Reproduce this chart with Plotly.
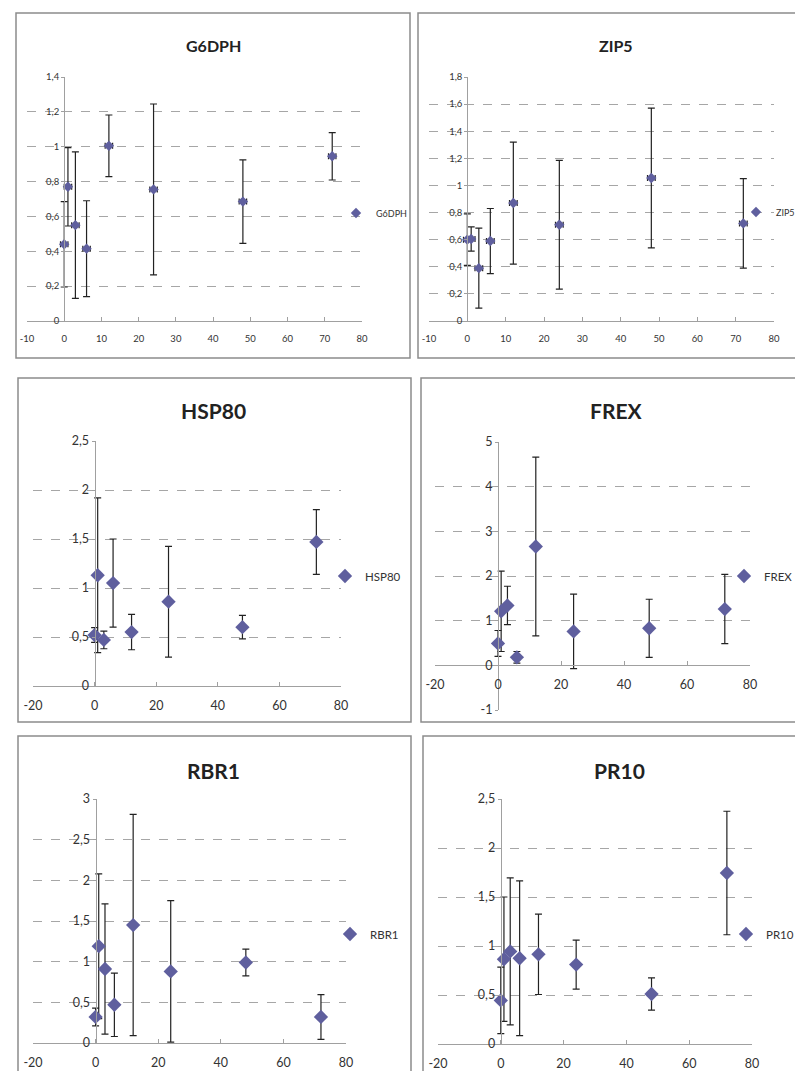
import plotly.graph_objects as go

# ---------------- data ----------------
times = [0, 1, 3, 6, 12, 24, 48, 72]

g6dph_y = [0.44, 0.77, 0.55, 0.415, 1.005, 0.755, 0.685, 0.945]
g6dph_err = [0.245, 0.225, 0.42, 0.275, 0.177, 0.49, 0.24, 0.136]

zip5_y = [0.60, 0.605, 0.39, 0.59, 0.87, 0.71, 1.055, 0.72]
zip5_err = [0.19, 0.09, 0.295, 0.24, 0.45, 0.475, 0.515, 0.33]

hsp80_y = [0.52, 1.13, 0.47, 1.05, 0.55, 0.86, 0.60, 1.47]
hsp80_err = [0.075, 0.79, 0.09, 0.45, 0.18, 0.565, 0.12, 0.33]

frex_y = [0.49, 1.21, 1.34, 0.18, 2.66, 0.76, 0.83, 1.26]
frex_err = [0.29, 0.90, 0.43, 0.13, 2.0, 0.835, 0.65, 0.775]

rbr1_y = [0.32, 1.19, 0.91, 0.47, 1.45, 0.88, 0.99, 0.32]
rbr1_err = [0.11, 0.89, 0.80, 0.39, 1.36, 0.87, 0.165, 0.275]

pr10_y = [0.445, 0.865, 0.945, 0.875, 0.915, 0.81, 0.51, 1.745]
pr10_err = [0.34, 0.635, 0.75, 0.79, 0.41, 0.25, 0.165, 0.63]

time_err_top = [1, 1, 1, 1, 1, 1, 1, 1]

x_ticks_top = [-10, 0, 10, 20, 30, 40, 50, 60, 70, 80]
x_labels_top = ["-10", "0", "10", "20", "30", "40", "50", "60", "70", "80"]
x_ticks_low = [-20, 0, 20, 40, 60, 80]
x_labels_low = ["-20", "0", "20", "40", "60", "80"]
frex_y_ticks = [-1, 0, 1, 2, 3, 4, 5]
frex_y_labels = ["-1", "0", "1", "2", "3", "4", "5"]

# ---------------- layout config ----------------
W, H = 803, 1071
FONT = "Lato, Liberation Sans, sans-serif"
MARKER = "#5F5F9E"
GRID = "#A6A6A6"
AXIS = "#A0A0A0"

panels = [
    dict(name="G6DPH", y=g6dph_y, err=g6dph_err, xerr=time_err_top,
         xr=[-10, 80], xt=x_ticks_top, xl=x_labels_top, yr=[0, 1.4], dy=0.2,
         px=(19, 354, 69, 313), box=(8, 5, 402, 350), title=(205, 38), tsize=16,
         leg=(376, 205), lsize=9, fsize=9.5, msize=8),
    dict(name="ZIP5", y=zip5_y, err=zip5_err, xerr=time_err_top,
         xr=[-10, 80], xt=x_ticks_top, xl=x_labels_top, yr=[0, 1.8], dy=0.2,
         px=(421, 766, 69, 313), box=(410, 5, 806, 350), title=(608, 38), tsize=16,
         leg=(776, 204), lsize=9, fsize=9.5, msize=8),
    dict(name="HSP80", y=hsp80_y, err=hsp80_err, xerr=None,
         xr=[-20, 80], xt=x_ticks_low, xl=x_labels_low, yr=[0, 2.5], dy=0.5,
         px=(25, 333, 433, 678), box=(10, 370, 403, 714), title=(205, 402), tsize=21,
         leg=(365, 568), lsize=11.5, fsize=12.5, msize=11),
    dict(name="FREX", y=frex_y, err=frex_err, xerr=None,
         xr=[-20, 80], xt=x_ticks_low, xl=x_labels_low, yr=[-1, 5], dy=1,
         yt=frex_y_ticks, yl=frex_y_labels,
         px=(427, 742, 434, 702), box=(413, 370, 806, 714), title=(608, 402), tsize=21,
         leg=(764, 568), lsize=11.5, fsize=12.5, msize=11),
    dict(name="RBR1", y=rbr1_y, err=rbr1_err, xerr=None,
         xr=[-20, 80], xt=x_ticks_low, xl=x_labels_low, yr=[0, 3], dy=0.5,
         px=(25, 338, 791, 1035), box=(10, 728, 403, 1075), title=(205, 762), tsize=21,
         leg=(370, 926), lsize=11.5, fsize=12.5, msize=11),
    dict(name="PR10", y=pr10_y, err=pr10_err, xerr=None,
         xr=[-20, 80], xt=x_ticks_low, xl=x_labels_low, yr=[0, 2.5], dy=0.5,
         px=(430, 744, 791, 1036), box=(415, 728, 806, 1075), title=(611, 762), tsize=21,
         leg=(766, 926), lsize=11.5, fsize=12.5, msize=11),
]

fig = go.Figure()
layout = dict(
    width=W, height=H, margin=dict(l=0, r=0, t=0, b=0, autoexpand=False),
    paper_bgcolor="white", plot_bgcolor="white", separators=", ",
    font=dict(family=FONT, color="#333333"),
    shapes=[], annotations=[],
)

for i, p in enumerate(panels, start=1):
    sfx = "" if i == 1 else str(i)
    x0, x1, yt, yb = p["px"]
    xmin, xmax = p["xr"]
    ymin, ymax = p["yr"]
    xdom = [x0 / W, x1 / W]
    ydom = [1 - yb / H, 1 - yt / H]
    yaxis_px = x0 + (0 - xmin) / (xmax - xmin) * (x1 - x0)
    xaxis_py = yb - (0 - ymin) / (ymax - ymin) * (yb - yt)

    legname = "legend" if i == 1 else f"legend{i}"
    tr = dict(
        x=times, y=p["y"], mode="markers", name=p["name"],
        marker=dict(symbol="diamond", size=p["msize"], color=MARKER),
        error_y=dict(type="data", array=p["err"], visible=True,
                     color="#222222", thickness=1.2, width=3.5),
        xaxis=f"x{sfx}", yaxis=f"y{sfx}", legend=legname, showlegend=True,
    )
    if p["xerr"] is not None:
        tr["error_x"] = dict(type="data", array=p["xerr"], visible=True,
                             color="#222222", thickness=1.2, width=3)
    fig.add_trace(go.Scatter(**tr))

    layout[f"xaxis{sfx}"] = dict(
        domain=xdom, range=p["xr"], anchor="free", position=1 - xaxis_py / H,
        tickmode="array", tickvals=p["xt"], ticktext=p["xl"],
        showgrid=False, zeroline=False, showline=True, linecolor=AXIS, linewidth=1.2,
        ticks="inside", ticklen=4, tickcolor=AXIS,
        tickfont=dict(size=p["fsize"], family=FONT, color="#333333"),
        ticklabelstandoff=8,
    )
    yax = dict(
        domain=ydom, range=p["yr"], anchor="free", position=yaxis_px / W,
        dtick=p["dy"], tick0=0,
        showgrid=True, gridcolor=GRID, griddash="dash", gridwidth=1,
        zeroline=False, showline=True, linecolor=AXIS, linewidth=1.2,
        ticks="outside", ticklen=3, tickcolor=AXIS,
        tickfont=dict(size=p["fsize"], family=FONT, color="#333333"),
    )
    if "yt" in p:
        yax.update(tickmode="array", tickvals=p["yt"], ticktext=p["yl"])
    layout[f"yaxis{sfx}"] = yax

    bx0, by0, bx1, by1 = p["box"]
    layout["shapes"].append(dict(
        type="rect", xref="paper", yref="paper",
        x0=bx0 / W, x1=bx1 / W, y0=1 - by1 / H, y1=1 - by0 / H,
        line=dict(color="#8C8C8C", width=1.5), fillcolor="rgba(0,0,0,0)", layer="below",
    ))
    tx, ty = p["title"]
    layout["annotations"].append(dict(
        text=f"<b>{p['name']}</b>", xref="paper", yref="paper",
        x=tx / W, y=1 - ty / H, xanchor="center", yanchor="middle", showarrow=False,
        font=dict(size=p["tsize"], family=FONT, color="#222222"),
    ))
    lx, ly = p["leg"]
    layout[legname] = dict(
        x=(lx - 48) / W, y=1 - ly / H, xanchor="left", yanchor="middle",
        bgcolor="rgba(0,0,0,0)", borderwidth=0,
        font=dict(size=p["lsize"], family=FONT, color="#333333"),
    )

fig.update_layout(**layout)
fig.write_html("out.html")
